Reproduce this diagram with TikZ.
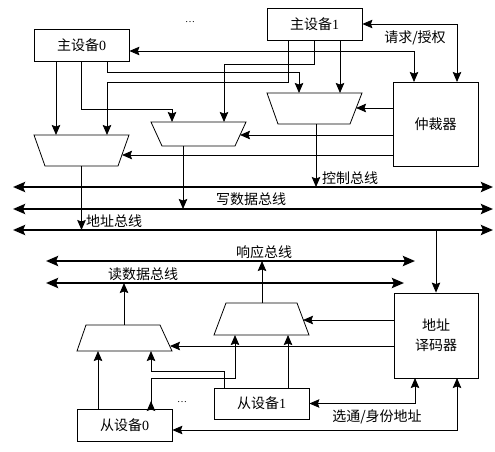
\documentclass[tikz,border=0pt]{standalone}
\usepackage{fontspec}
\setmainfont{Liberation Serif}
\newfontfamily\cjk{Noto Sans CJK SC}
\usetikzlibrary{arrows.meta}
\begin{document}
\begin{tikzpicture}[x=1pt,y=-1pt,
  box/.style={draw,line width=0.8pt,inner sep=0pt,align=center,font=\fontsize{14}{20}\selectfont\cjk},
  wire/.style={line width=0.8pt},
  arr/.style={wire,-{Stealth[length=10pt,width=8.5pt,inset=1.5pt]}},
  barr/.style={wire,{Stealth[length=10pt,width=8.5pt,inset=1.5pt]}-{Stealth[length=10pt,width=8.5pt,inset=1.5pt]}},
  bus/.style={line width=2.6pt,{Stealth[length=12pt,width=10pt,inset=2pt]}-{Stealth[length=12pt,width=10pt,inset=2pt]}},
  lbl/.style={inner sep=0pt,font=\fontsize{14}{16}\selectfont\cjk},
  mux/.style={draw,line width=0.8pt,line join=miter},
  dotsnode/.style={inner sep=0pt,font=\fontsize{10}{12}\selectfont}]
\useasboundingbox (0,0) rectangle (495,452);

% boxes
\node[box,minimum width=95pt,minimum height=32pt] (m0) at (81.5,45) {主设备\rmfamily 0};
\node[box,minimum width=95pt,minimum height=32pt] (m1) at (314.5,24) {主设备\rmfamily 1};
\node[box,minimum width=85pt,minimum height=84pt] (arb) at (435.5,124) {仲裁器};
\node[box,minimum width=84pt,minimum height=85pt] (dec) at (436,335.5) {地址\\译码器};
\node[box,minimum width=95pt,minimum height=32pt] (s0) at (124.5,425) {从设备\rmfamily 0};
\node[box,minimum width=95pt,minimum height=31pt] (s1) at (261.5,403.5) {从设备\rmfamily 1};
\node[dotsnode] (dots1) at (190,22) {\dots};
\node[dotsnode] (dots2) at (182,402) {\dots};

% multiplexers
\draw[mux] (34,135) -- (129,135) -- (118,166) -- (45,166) -- cycle;
\draw[mux] (151,122) -- (246,122) -- (235,146) -- (162,146) -- cycle;
\draw[mux] (267,93) -- (362,93) -- (350,124) -- (278,124) -- cycle;
\draw[mux] (86,325) -- (160,325) -- (172,351) -- (77,351) -- cycle;
\draw[mux] (226,303) -- (297,303) -- (309,335) -- (214,335) -- cycle;

% mux ports
\coordinate (aI1) at (56,135);  \coordinate (aI2) at (107,135);
\coordinate (aS) at (122,155);  \coordinate (aO) at (81.5,166);
\coordinate (bI1) at (172,122); \coordinate (bI2) at (224,122);
\coordinate (bS) at (240,135);  \coordinate (bO) at (183,146);
\coordinate (cI1) at (299,93);  \coordinate (cI2) at (340,93);
\coordinate (cS) at (356,108);  \coordinate (cO) at (316,124);
\coordinate (dI1) at (98,351);  \coordinate (dI2) at (151,351);
\coordinate (dS) at (170,346);  \coordinate (dO) at (124,325);
\coordinate (eI1) at (235,335); \coordinate (eI2) at (288,335);
\coordinate (eS) at (303,320);  \coordinate (eO) at (262,303);

% buses
\coordinate (cbL) at (13,187); \coordinate (cbR) at (493,187);
\coordinate (wbL) at (13,209); \coordinate (wbR) at (493,209);
\coordinate (abL) at (13,230); \coordinate (abR) at (493,230);
\coordinate (rbL) at (46,261); \coordinate (rbR) at (415,261);
\coordinate (dbL) at (46,283); \coordinate (dbR) at (404,283);
\draw[bus] (cbL) -- (cbR);
\draw[bus] (wbL) -- (wbR);
\draw[bus] (abL) -- (abR);
\draw[bus] (rbL) -- (rbR);
\draw[bus] (dbL) -- (dbR);

% bus labels
\node[lbl,anchor=west] (lc) at (322,178) {控制总线};
\node[lbl] (lw) at (251,199) {写数据总线};
\node[lbl,anchor=west] (la) at (86,221) {地址总线};
\node[lbl] (lr) at (264,252) {响应总线};
\node[lbl] (ld) at (143,274) {读数据总线};
\node[lbl] (lq) at (415,38) {请求/授权};
\node[lbl] (lx) at (377,417) {选通/身份地址};

% master outputs
\draw[arr] (m0.south -| aI1) -- (aI1);
\draw[arr] (m0.south -| aO) -- (81.5,109) -| (bI1);
\draw[arr] (m0.south -| aI2) -- (107,72) -| (cI1);
\draw[arr] (m1.south -| eI2) -- (288,82) -| (aI2);
\draw[arr] (m1.south) -- (314.5,64) -| (bI2);
\draw[arr] (m1.south -| cI2) -- (cI2);

% arbiter
\coordinate (arbT1) at (414,82);
\coordinate (arbT2) at (457,82);
\draw[barr] ([yshift=-6pt]m0.east) -| (arbT1);
\draw[barr] (m1.east) -| (arbT2);
\draw[arr] (arb.west |- cS) -- (cS);
\draw[arr] (arb.west |- bS) -- (bS);
\draw[arr] (arb.west |- aS) -- (aS);

% mux outputs to buses
\draw[arr] (aO) -- (aO |- abL);
\draw[arr] (bO) -- (bO |- wbL);
\draw[arr] (cO) -- (cO |- cbL);
\draw[arr] (abL -| dec.north) -- (dec.north);
\draw[arr] (eO) -- (eO |- rbL);
\draw[arr] (dO) -- (dO |- dbL);

% decoder
\draw[arr] (dec.west |- eS) -- (eS);
\draw[arr] (dec.west |- dS) -- (dS);
\coordinate (decB1) at (415,378);
\coordinate (decB2) at (457,378);
\draw[barr] (decB1) |- (s1.east);
\draw[barr] (decB2) |- ([yshift=-5pt]s0.east);

% slave outputs
\draw[arr] (s0.north -| dI1) -- (dI1);
\draw[arr] (s0.north -| dI2) -- (151,378) -| (eI1);
\draw[arr] (s0.north -| dI2) -- (151,401);
\draw[arr] (s1.north -| bI2) -- (224,371) -| (dI2);
\draw[arr] (s1.north -| eI2) -- (eI2);
\end{tikzpicture}
\end{document}
